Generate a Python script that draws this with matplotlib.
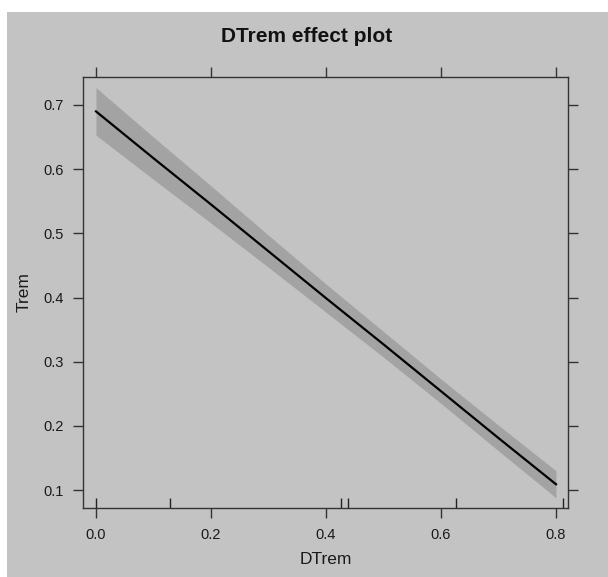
import matplotlib
matplotlib.use("Agg")
import matplotlib.pyplot as plt
from matplotlib.patches import Rectangle

plt.rcParams['font.family'] = ['Liberation Sans', 'DejaVu Sans']

# Data
x_vals = [0.0, 0.1, 0.2, 0.3, 0.4, 0.5, 0.6, 0.7, 0.8]
fit = [0.690, 0.617, 0.545, 0.472, 0.399, 0.327, 0.254, 0.181, 0.109]
lower = [0.653, 0.584, 0.516, 0.447, 0.377, 0.307, 0.235, 0.161, 0.088]
upper = [0.727, 0.650, 0.574, 0.497, 0.421, 0.347, 0.273, 0.201, 0.130]
rug = [0.0, 0.129, 0.4255, 0.439, 0.626, 0.8115]
xticks = [0.0, 0.2, 0.4, 0.6, 0.8]
yticks = [0.1, 0.2, 0.3, 0.4, 0.5, 0.6, 0.7]

W, H = 608, 577
bg = '#c3c3c3'
fig = plt.figure(figsize=(W / 100, H / 100), dpi=100, facecolor='white')
fig.patches.append(Rectangle((7 / W, 0), 1 - 7 / W, 1 - 12 / H,
                             transform=fig.transFigure, facecolor=bg,
                             edgecolor='none', zorder=-10))

ax = fig.add_axes([83 / W, 1 - 508 / H, (568 - 83) / W, (508 - 77) / H])
ax.set_facecolor(bg)
ax.fill_between(x_vals, lower, upper, color='#a3a3a3', linewidth=0)
ax.plot(x_vals, fit, color='black', linewidth=1.6)
ax.vlines(rug, 0, 10 / 431, transform=ax.get_xaxis_transform(),
          color='#222222', linewidth=1.0)

ax.set_xlim(-0.0226, 0.8209)
ax.set_ylim(0.072, 0.7436)
ax.set_xticks(xticks)
ax.set_yticks(yticks)
ax.set_xticklabels([f"{v:.1f}" for v in xticks])
ax.set_yticklabels([f"{v:.1f}" for v in yticks])

for s in ax.spines.values():
    s.set_color('#333333')
    s.set_linewidth(1.0)

ax.tick_params(axis='both', direction='out', length=7, width=1.0,
               color='#333333', labelsize=10.5, labelcolor='#1a1a1a',
               top=True, right=True, labeltop=False, labelright=False)
ax.tick_params(axis='x', pad=7.5)
ax.tick_params(axis='y', pad=6.5)

ax.set_xlabel('DTrem', fontsize=12.5, color='#1a1a1a', labelpad=7)
ax.set_ylabel('Trem', fontsize=12.5, color='#1a1a1a', labelpad=9)

fig.text(307 / W, 1 - 37 / H, 'DTrem effect plot', ha='center', va='center',
         fontsize=15, fontweight='bold', color='#111111')

fig.savefig('out.png', dpi=100, facecolor='white')
